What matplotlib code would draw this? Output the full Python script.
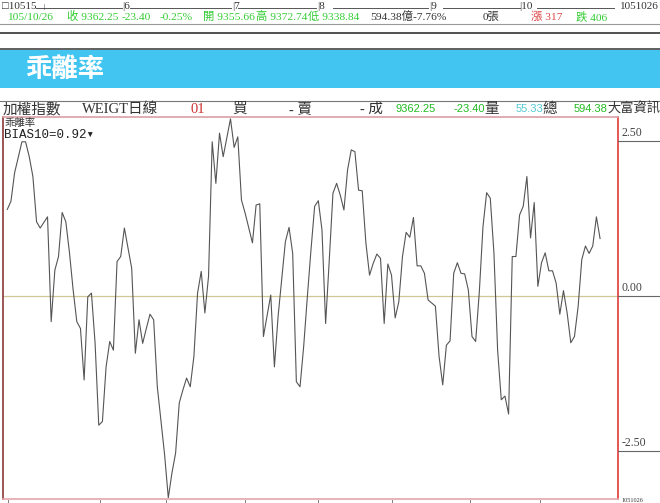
import numpy as np
import matplotlib
matplotlib.use("Agg")
import matplotlib.pyplot as plt

# daily BIAS10 readings (day index, value)
days = [0, 1, 2, 4, 5, 6, 7, 8, 9, 11, 12, 13, 14, 15, 16, 17, 18, 19, 20, 21,
        22, 23, 24, 25, 26, 27, 28, 29, 30, 31, 32, 33, 34, 35, 36, 37, 38, 39, 40, 41,
        43, 44, 45, 46, 47, 48, 49, 50, 51, 52, 53, 54, 55, 56, 57, 58, 59, 61, 62, 63,
        64, 65, 67, 68, 69, 70, 72, 73, 74, 76, 77, 78, 79, 80, 81, 82, 83, 84, 85, 86,
        87, 88, 89, 90, 91, 92, 93, 94, 95, 96, 97, 98, 99, 100, 101, 102, 103, 104, 105, 106,
        107, 108, 109, 110, 111, 112, 113, 114, 115, 117, 118, 119, 120, 121, 122, 123, 124, 125, 126, 127,
        128, 129, 130, 131, 132, 133, 134, 135, 136, 137, 138, 139, 140, 141, 142, 143, 144, 145, 146, 147,
        148, 149, 150, 151, 152, 153, 154, 155, 156, 157, 158, 159, 160, 161, 162]
bias = [1.39, 1.52, 1.98, 2.48, 2.48, 2.24, 1.92, 1.19, 1.09, 1.27, -0.42, 0.41, 0.63, 1.34, 1.19, 0.69, 0.09, -0.42, -0.53, -1.36,
        -0.02, 0.04, -0.77, -2.09, -2.03, -1.15, -0.74, -0.88, 0.55, 0.63, 1.09, 0.76, 0.44, -0.93, -0.39, -0.77, -0.53, -0.30, -0.39, -1.47,
        -2.57, -3.26, -2.86, -2.54, -1.73, -1.52, -1.33, -1.47, -0.98, 0.04, 0.39, -0.28, 0.31, 2.48, 1.81, 2.62, 2.24, 2.85, 2.39, 2.56,
        1.54, 1.33, 0.85, 1.46, 1.48, -0.66, 0.01, -1.15, -0.34, 0.87, 1.10, 0.68, -1.39, -1.47, -0.82, -0.02, 0.74, 1.44, 1.53, 1.06,
        -0.45, 0.58, 1.65, 1.81, 1.62, 1.38, 2.03, 2.35, 2.32, 1.70, 1.69, 0.85, 0.33, 0.52, 0.67, 0.60, -0.45, 0.51, 0.33, -0.36,
        -0.10, 0.63, 1.02, 0.94, 1.26, 0.48, 0.48, 0.36, -0.07, -0.17, -0.98, -1.44, -0.80, -0.73, 0.36, 0.53, 0.36, 0.35, 0.09, -0.66,
        -0.74, 0.06, 1.11, 1.66, 1.57, 0.68, -0.88, -1.68, -1.62, -1.91, 0.63, 0.63, 1.30, 1.44, 1.92, 0.93, 1.50, 0.15, 0.53, 0.69,
        0.40, 0.40, 0.20, -0.30, 0.08, -0.28, -0.76, -0.66, -0.18, 0.58, 0.80, 0.68, 0.80, 1.27, 0.92]
levels = [2.5, 0.0, -2.5]
level_labels = ["2.50", "0.00", "-2.50"]
months = ["6", "7", "8", "9", "10"]

W, H = 660, 503
fig = plt.figure(figsize=(W / 100, H / 100), dpi=100)
fig.patch.set_facecolor("white")

SERIF = ["Liberation Serif", "Noto Sans CJK TC"]
SANS = ["Liberation Sans", "Noto Sans CJK TC"]
CJK = ["Noto Sans CJK TC", "DejaVu Sans"]


def fx(x):
    return x / W


def fy(y):
    return 1 - y / H


def txt(x, y, s, color="#333333", size=9, family=SERIF, **kw):
    fig.text(fx(x), fy(y), s, color=color, fontsize=size, family=family,
             va="baseline", ha=kw.pop("ha", "left"), **kw)


def hline(y, x0, x1, color, lw=1.0):
    fig.add_artist(plt.Line2D([fx(x0), fx(x1)], [fy(y), fy(y)], color=color, lw=lw))


# top strip: mini time bar
txt(2, 9, "\u25a110515 \u2577", size=8)
for xa, xb in [(36, 122), (130, 231), (238, 316), (333, 428), (443, 520), (537, 614)]:
    hline(8, xa, xb, "#555555", 0.7)
for xm, m in zip([122, 232, 317, 429, 519], months):
    txt(xm, 9, "|" + m, size=8)
txt(620, 9, "1051026", size=8)

green = "#33cc33"
fs = 8.2
txt(7, 20, "105/10/26", green, fs)
txt(67, 20, "收 9362.25", green, fs)
txt(122, 20, "-23.40", green, fs)
txt(160, 20, "-0.25%", green, fs)
txt(203, 20, "開 9355.66", green, fs)
txt(256, 20, "高 9372.74", green, fs)
txt(308, 20, "低 9338.84", green, fs)
txt(370, 20, "594.38億-7.76%", "#333333", fs)
txt(483, 20, "0張", "#333333", fs)
txt(531, 20, "漲 317", "#dd4444", fs)
txt(576, 20, "跌 406", green, fs)
hline(23.5, 0, 660, "#999999", 0.8)

# title band
hline(33, 0, 660, "#333333", 1.2)
hline(48.5, 0, 660, "#444444", 1.2)
band = fig.add_axes([0, fy(88), 1, fy(49.5) - fy(88)])
band.set_facecolor("#43c5f1")
band.set_xticks([])
band.set_yticks([])
for s in band.spines.values():
    s.set_visible(False)
fig.text(fx(25), fy(69), "乖離率", color="white", fontsize=19, family=CJK,
         fontweight="bold", va="center", ha="left")

# header row
hline(100.5, 0, 660, "#777777", 0.8)
txt(3, 113, "加權指數", size=10.5)
txt(82, 113, "WEIGT日線", size=10.5)
txt(190, 113, "01", "#cc3333", 10.5)
txt(232, 113, "買", size=10.5)
txt(289, 113, "- 賣", size=10.5)
txt(360, 113, "- 成", size=10.5)
txt(396, 112, "9362.25", "#22bb22", 8, SANS)
txt(454, 112, "-23.40", "#22bb22", 8, SANS)
txt(484, 113, "量", size=10.5)
txt(516, 112, "55.33", "#55c8d0", 8, SANS)
txt(542, 113, "總", size=10.5)
txt(574, 112, "594.38", "#22bb22", 8, SANS)
txt(607, 113, "大富資訊", size=9.5)

# main chart
ax = fig.add_axes([fx(3), fy(499), fx(618) - fx(3), fy(117) - fy(499)])
ax.plot(days, bias, color="#555555", lw=0.8)
ax.axhline(0, color="#cfc796", lw=0.9, zorder=0)
ax.set_xlim(-1.17, 166.9)
ax.set_ylim(-3.28, 2.88)
ax.set_xticks([])
ax.set_yticks([])
ax.spines["top"].set_color("#d9a0a4")
ax.spines["bottom"].set_color("#e6a6ae")
ax.spines["left"].set_color("#8a3a3a")
ax.spines["right"].set_color("#e23a3a")
for s in ax.spines.values():
    s.set_linewidth(1.2)
txt(4, 126, "乖離率", "#333333", 7.5, CJK)
txt(4, 137.5, "BIAS10=0.92\u25be", "#222222", 9,
    ["Liberation Mono", "DejaVu Sans Mono"])

# right scale
rax = fig.add_axes([fx(618), fy(499), 1 - fx(618), fy(117) - fy(499)])
rax.set_ylim(ax.get_ylim())
rax.set_xlim(0, 1)
rax.axis("off")
for lv, lab in zip(levels, level_labels):
    rax.axhline(lv, color="#666666", lw=0.8)
    rax.text(0.08, lv + 0.03, lab, fontsize=8.5, family=SERIF, color="#444444",
             va="bottom", ha="left")

# bottom strip stub
for xt in [8, 100, 166, 245, 318, 392, 470, 540]:
    fig.add_artist(plt.Line2D([fx(xt), fx(xt)], [fy(500), fy(503)], color="#666666", lw=0.6))
txt(621, 502.5, "1051026", size=4.5)

fig.savefig("out.png", dpi=100)
